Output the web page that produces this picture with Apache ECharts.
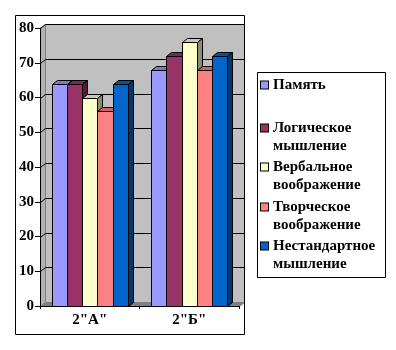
<!DOCTYPE html>
<html>
<head>
<meta charset="utf-8">
<script src="https://cdn.jsdelivr.net/npm/echarts@6/dist/echarts.min.js"></script>
<style>html,body{margin:0;padding:0;background:#fff;}#c{width:396px;height:350px;}</style>
</head>
<body>
<div id="c"></div>
<script>
const categories = ['2"А"', '2"Б"'];
const seriesNames = ['Память', 'Логическое\nмышление', 'Вербальное\nвоображение', 'Творческое\nвоображение', 'Нестандартное\nмышление'];
const pamyat = [64, 68];
const logicheskoe = [64, 72];
const verbalnoe = [60, 76];
const tvorcheskoe = [56, 68];
const nestandartnoe = [64, 72];
const yTicks = [0, 10, 20, 30, 40, 50, 60, 70, 80];
const colors = ['#9999FF', '#993366', '#FFFFCC', '#FF8080', '#0066CC'];
const values = [pamyat, logicheskoe, verbalnoe, tvorcheskoe, nestandartnoe];

const DX = 5, DY = 4, BAR_FRAC = 0.153;
const FONT = 'Liberation Serif';
function shade(hex, f) {
  const n = parseInt(hex.slice(1), 16);
  const r = Math.round(((n >> 16) & 255) * f), g = Math.round(((n >> 8) & 255) * f), b = Math.round((n & 255) * f);
  return 'rgb(' + r + ',' + g + ',' + b + ')';
}
const px = v => Math.round(v) + 0.5;

function wallSeries() {
  return {
    type: 'custom', name: 'walls', z: 1, silent: true,
    data: [[0, 0]],
    renderItem: function (params, api) {
      const bw = api.size([1, 0])[0];
      const L = px(api.coord([0, 0])[0] - bw / 2);
      const R = px(api.coord([categories.length - 1, 0])[0] + bw / 2);
      const B = px(api.coord([0, yTicks[0]])[1]);
      const T = px(api.coord([0, yTicks[yTicks.length - 1]])[1]);
      const ch = [];
      ch.push({ type: 'rect', shape: { x: L + DX, y: T - DY, width: R - L, height: B - T }, style: { fill: '#C0C0C0', stroke: '#808080', lineWidth: 1 } });
      ch.push({ type: 'polygon', shape: { points: [[L, T], [L + DX, T - DY], [L + DX, B - DY], [L, B]] }, style: { fill: '#B2B2B2', stroke: '#808080', lineWidth: 1 } });
      ch.push({ type: 'polygon', shape: { points: [[L, B], [L + DX, B - DY], [R + DX, B - DY], [R, B]] }, style: { fill: '#808080', stroke: '#808080', lineWidth: 1 } });
      yTicks.forEach(function (t, i) {
        if (i === 0) return;
        const y = px(api.coord([0, t])[1]);
        ch.push({ type: 'line', shape: { x1: L + DX, y1: y - DY, x2: R + DX, y2: y - DY }, style: { stroke: '#000', lineWidth: 1 } });
        ch.push({ type: 'line', shape: { x1: L, y1: y, x2: L + DX, y2: y - DY }, style: { stroke: '#000', lineWidth: 1 } });
      });
      return { type: 'group', children: ch };
    }
  };
}

function barSeries(i) {
  return {
    type: 'custom', name: seriesNames[i], z: 3,
    itemStyle: { color: colors[i], borderColor: '#000', borderWidth: 1 },
    data: values[i].map(function (v, k) { return [k, v]; }),
    renderItem: function (params, api) {
      const k = api.value(0), v = api.value(1);
      const base = api.coord([k, 0]), top = api.coord([k, v]);
      const bw = api.size([1, 0])[0] * BAR_FRAC;
      const x0 = px(base[0] - 2.5 * bw + i * bw), x1 = px(base[0] - 2.5 * bw + (i + 1) * bw);
      const yt = px(top[1]), yb = px(base[1]);
      return {
        type: 'group', children: [
          { type: 'rect', shape: { x: x0, y: yt, width: x1 - x0, height: yb - yt }, style: { fill: colors[i], stroke: '#000', lineWidth: 1 } },
          { type: 'polygon', shape: { points: [[x0, yt], [x0 + DX, yt - DY], [x1 + DX, yt - DY], [x1, yt]] }, style: { fill: shade(colors[i], 0.8), stroke: '#000', lineWidth: 1 } },
          { type: 'polygon', shape: { points: [[x1, yt], [x1 + DX, yt - DY], [x1 + DX, yb - DY], [x1, yb]] }, style: { fill: shade(colors[i], 0.55), stroke: '#000', lineWidth: 1 } }
        ]
      };
    }
  };
}

// first-line centre of each legend entry minus half a line
const legendTops = [76, 119, 158, 198, 237];
const legends = seriesNames.map(function (n, i) {
  const lines = n.split('\n');
  return {
    data: [n], left: 256, top: legendTops[i], orient: 'vertical', padding: 0,
    icon: 'rect', itemWidth: 0, itemHeight: 0,
    itemStyle: { borderWidth: 0 },
    selectedMode: false,
    formatter: function () {
      return lines.map(function (l, j) {
        return (j === 0 ? '{sq|}{sp|}' : '{ind|}') + '{t|' + l + '}';
      }).join('\n');
    },
    textStyle: {
      fontFamily: FONT, fontWeight: 'bold', fontSize: 15, color: '#000', lineHeight: 18,
      rich: {
        sq: { width: 7, height: 7, backgroundColor: colors[i], borderColor: '#000', borderWidth: 1 },
        sp: { width: 5 },
        ind: { width: 12 },
        t: { fontFamily: FONT, fontWeight: 'bold', fontSize: 15, color: '#000', lineHeight: 18 }
      }
    }
  };
});

const chart = echarts.init(document.getElementById('c'), null, { renderer: 'canvas' });
chart.setOption({
  animation: false,
  backgroundColor: '#fff',
  grid: { left: 40, top: 28, width: 199, height: 278 },
  legend: legends,
  xAxis: {
    type: 'category', data: categories, z: 10,
    axisLine: { lineStyle: { color: '#000', width: 1 } },
    axisTick: { show: true, length: 3, lineStyle: { color: '#000' } },
    axisLabel: { fontFamily: FONT, fontWeight: 'bold', fontSize: 15, color: '#000', margin: 7 }
  },
  yAxis: {
    type: 'value', min: 0, max: 80, interval: 10, z: 10,
    axisLine: { show: true, lineStyle: { color: '#000', width: 1 } },
    axisTick: { show: true, length: 5, lineStyle: { color: '#000' } },
    splitLine: { show: false },
    axisLabel: { fontFamily: FONT, fontWeight: 'bold', fontSize: 15, color: '#000', margin: 6 }
  },
  graphic: [
    { type: 'rect', shape: { x: 15.5, y: 15.5, width: 229, height: 319 }, style: { fill: 'none', stroke: '#000', lineWidth: 1 }, z: 20 },
    { type: 'rect', shape: { x: 257.5, y: 72.5, width: 128, height: 205 }, style: { fill: 'none', stroke: '#000', lineWidth: 1 }, z: 20 }
  ],
  series: [wallSeries()].concat(values.map(function (v, i) { return barSeries(i); }))
});
</script>
</body>
</html>
